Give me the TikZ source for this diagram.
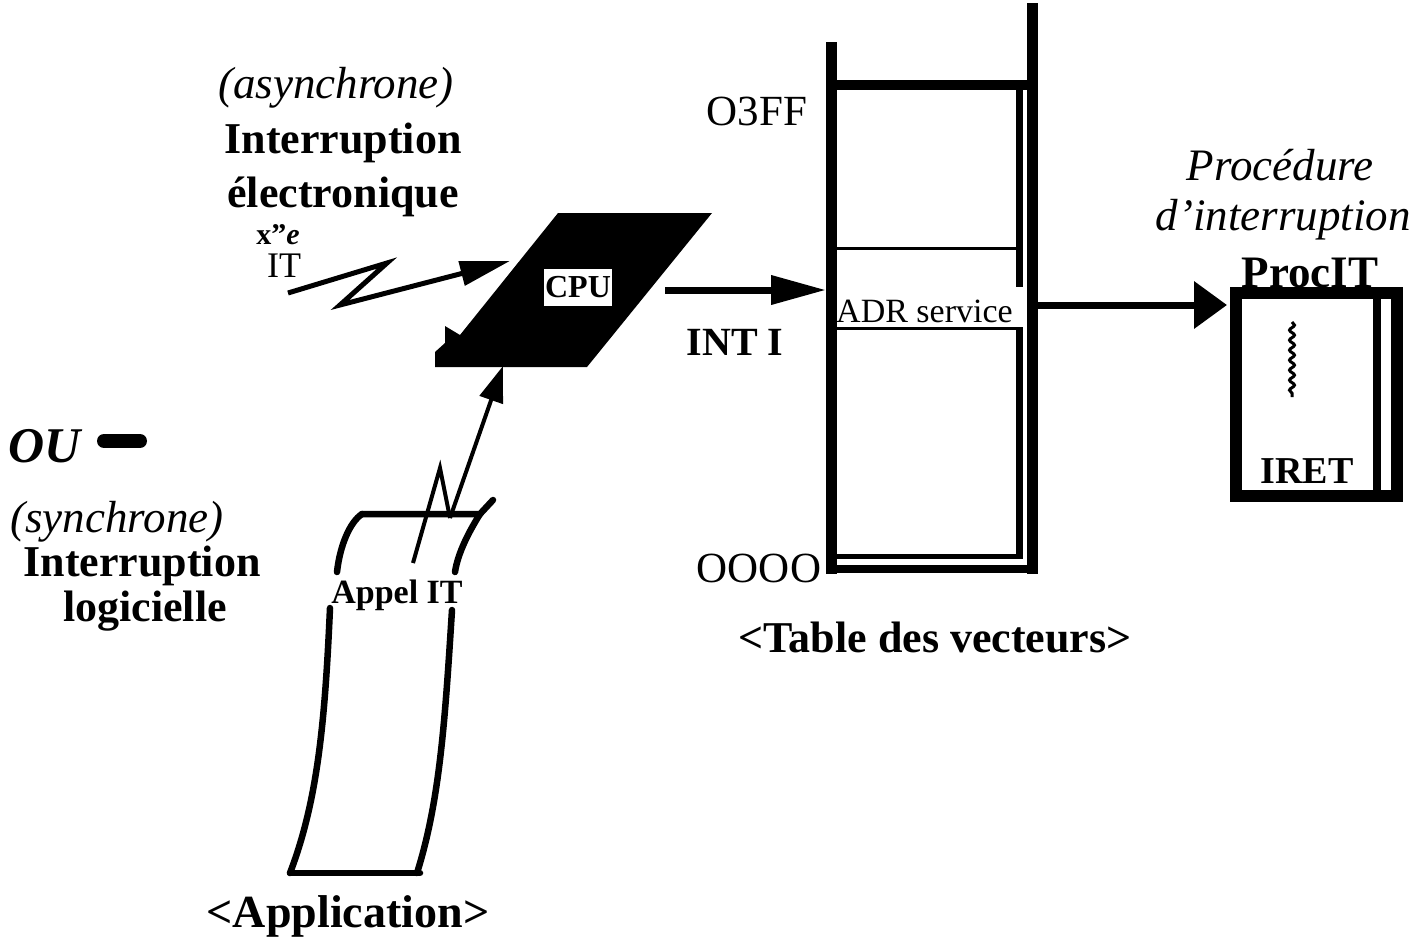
\documentclass[tikz,border=0pt]{standalone}
\usepackage{fontspec}
\setmainfont{Liberation Serif}
\usetikzlibrary{arrows.meta,decorations.pathmorphing}
\begin{document}
\begin{tikzpicture}[x=1pt,y=-1pt,
  txt/.style={inner sep=0pt,anchor=base},
  boldbig/.style={txt,font=\fontsize{44}{48}\selectfont\bfseries},
  italbig/.style={txt,font=\fontsize{45}{48}\selectfont\itshape},
  regmid/.style={txt,font=\fontsize{43}{46}\selectfont},
  thick line/.style={line width=#1,line cap=butt},
  wire/.style={line width=7pt},
  scrollline/.style={line width=6.5pt,line cap=round,line join=round},
]
\useasboundingbox (0,0) rectangle (1409,938);
\fill[white] (0,0) rectangle (1409,938);

% ---------- left-hand labels ----------
\node[italbig] (async) at (336,98) {(asynchrone)};
\node[boldbig] (elec1) at (343,153) {Interruption};
\node[boldbig] (elec2) at (343,207) {électronique};
\node[txt,font=\fontsize{30}{32}\selectfont\bfseries] (sig) at (278,244) {x''{\itshape e}};
\node[txt,font=\fontsize{36}{38}\selectfont] (itlbl) at (284,277) {IT};

\node[txt,anchor=base west,font=\fontsize{50}{52}\selectfont\bfseries\itshape] (ou) at (8,462) {OU};
\draw[line width=14pt,line cap=round] (104,441) -- (140,441);
\node[italbig] (sync) at (117,532) {(synchrone)};
\node[boldbig] (logi1) at (142,576) {Interruption};
\node[boldbig] (logi2) at (145,621) {logicielle};

% ---------- CPU ----------
\fill (558,213) -- (712,213) -- (587,367) -- (435,367) -- (435,352)
      -- (445,343) -- (445,326) -- (460,335) -- cycle;
\node[fill=white,inner sep=0pt,minimum width=68pt,minimum height=37pt,
      font=\fontsize{32}{34}\selectfont\bfseries] (cpu) at (578,287.5) {CPU};

% lightning (hardware interrupt)
\coordinate (lz0) at (288,293);
\coordinate (lz1) at (387,263);
\coordinate (lz2) at (340,305);
\coordinate (lz3) at (510,261);
\draw[line width=5pt,line join=miter,-{Triangle[length=50pt,width=24pt]}]
  (lz0) -- (lz1) -- (lz2) -- (lz3);

% ---------- application ----------
\draw[scrollline] (493,500) -- (480,514) -- (362,514);
\draw[scrollline] (362,514) .. controls (350,522) and (340,545) .. (337,572);
\draw[scrollline] (480,514) .. controls (470,530) and (458,552) .. (455,572);
\draw[scrollline] (330,608) .. controls (325,720) and (318,800) .. (290,873);
\draw[scrollline] (452,610) .. controls (445,720) and (440,800) .. (417,873);
\draw[scrollline] (290,873) -- (420,873);
\node[txt,font=\fontsize{34}{36}\selectfont\bfseries] (appel) at (397,603) {Appel IT};
\node[txt,font=\fontsize{46}{48}\selectfont\bfseries] (appli) at (348,927) {<Application>};

\coordinate (callfoot) at (413,563);
\coordinate (callpeak) at (440,468);
\coordinate (callbase) at (450,518);
\coordinate (cpuin) at (503,366);
\draw[line width=4pt] (callfoot) -- (callpeak) -- (callbase);
\draw[line width=4pt,-{Triangle[length=36pt,width=24pt]}] (callbase) -- (cpuin);

% ---------- vector table ----------
\draw[thick line=11pt] (831,42) -- (831,574);
\draw[thick line=11pt] (1032,3) -- (1032,574);
\draw[thick line=10pt] (826,85) -- (1037,85);
\draw[thick line=8pt] (826,569) -- (1037,569);
\draw[thick line=7pt] (1019,85) -- (1019,287);
\draw[thick line=7pt] (1019,327) -- (1019,559);
\draw[thick line=5pt] (835,556) -- (1022,556);
\draw[thick line=3pt] (835,248) -- (1022,248);
\draw[thick line=3pt] (835,328) -- (1022,328);

\node[regmid] (o3ff) at (757,125) {O3FF};
\node[regmid] (oooo) at (759,582) {OOOO};
\node[txt,anchor=base west,font=\fontsize{34}{36}\selectfont] (adr) at (836,322) {ADR service};
\node[txt,font=\fontsize{40}{42}\selectfont\bfseries] (int) at (735,355) {INT I};
\node[boldbig] (tabv) at (935,652) {<Table des vecteurs>};

\coordinate (intstart) at (665,290);
\coordinate (tabin) at (826,290);
\draw[wire,-{Triangle[length=55pt,width=28pt]}] (intstart) -- (tabin);

% ---------- interrupt procedure ----------
\node[italbig] (proc1) at (1280,180) {Procédure};
\node[italbig] (proc2) at (1283,230) {d'interruption};
\draw[line width=12pt] (1236,293) rectangle (1397,496);
\draw[thick line=8pt] (1377,293) -- (1377,496);
\node[txt,font=\fontsize{45}{47}\selectfont\bfseries] (procit) at (1310,287) {ProcIT};
\node[txt,font=\fontsize{38}{40}\selectfont\bfseries] (iret) at (1307,483) {IRET};
\draw[line width=3pt,decorate,decoration={snake,segment length=10pt,amplitude=2.5pt}]
  (1292,322) -- (1292,397);

\coordinate (tabout) at (1037,305);
\coordinate (procin) at (1227,305);
\draw[wire,-{Triangle[length=33pt,width=46pt]}] (tabout) -- (procin);
\end{tikzpicture}
\end{document}
